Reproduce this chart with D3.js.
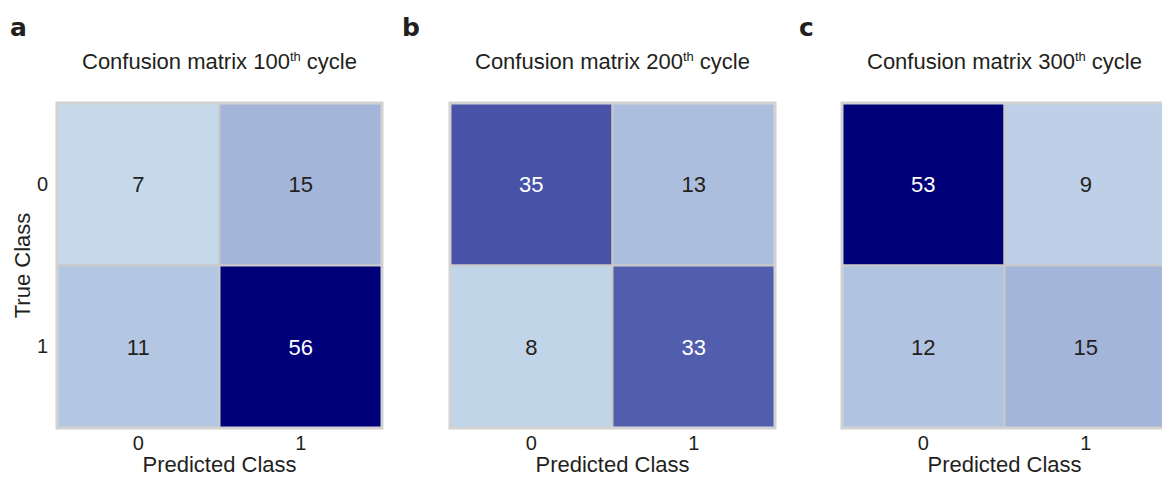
<!DOCTYPE html>
<html>
<head>
<meta charset="utf-8">
<script src="https://cdn.jsdelivr.net/npm/d3@7"></script>
<style>
  html, body { margin: 0; padding: 0; background: #fff; }
  svg { display: block; font-family: "Liberation Sans", Arial, Helvetica, sans-serif; }
</style>
</head>
<body>
<svg id="chart" width="1162" height="478"></svg>
<script>
// Class labels shared by every matrix
const classes = ["0", "1"];

// Panel letters and training-cycle numbers
const panelLetters = ["a", "b", "c"];
const cycles = ["100", "200", "300"];

// Confusion counts, row = true class, column = predicted class
const matrix100 = [[7, 15], [11, 56]];
const matrix200 = [[35, 13], [8, 33]];
const matrix300 = [[53, 9], [12, 15]];
const matrices = [matrix100, matrix200, matrix300];

// Colour ramp stops (count -> fill)
const colorStops = [7, 15, 35, 53];
const colorRange = ["#c5d9eb", "#a3b5d9", "#4853a8", "#000078"];

const svg = d3.select("#chart");
const ink = "#231f20";

const color = d3.scaleLinear()
  .domain(colorStops)
  .range(colorRange)
  .interpolate(d3.interpolateRgb)
  .clamp(true);

const panelLeft = [57, 450, 842];
const gridTop = 103;
const size = 325;

matrices.forEach((m, p) => {
  const x0 = panelLeft[p];
  const g = svg.append("g");

  const x = d3.scaleBand().domain(classes).range([x0, x0 + size]);
  const y = d3.scaleBand().domain(classes).range([gridTop, gridTop + size]);

  const cells = [];
  m.forEach((row, i) => row.forEach((v, j) => cells.push({ t: classes[i], p: classes[j], v })));

  // heatmap cells
  g.selectAll("rect.cell").data(cells).join("rect")
    .attr("class", "cell")
    .attr("x", d => x(d.p))
    .attr("y", d => y(d.t))
    .attr("width", x.bandwidth())
    .attr("height", y.bandwidth())
    .attr("fill", d => color(d.v))
    .attr("stroke", "#c9c9c9")
    .attr("stroke-width", 2);

  // outer frame
  g.append("rect")
    .attr("x", x0).attr("y", gridTop)
    .attr("width", size).attr("height", size)
    .attr("fill", "none")
    .attr("stroke", "#d2d2d2")
    .attr("stroke-width", 3);

  // count annotations
  g.selectAll("text.val").data(cells).join("text")
    .attr("class", "val")
    .attr("x", d => x(d.p) + x.bandwidth() / 2)
    .attr("y", d => y(d.t) + y.bandwidth() / 2)
    .attr("dy", "0.36em")
    .attr("text-anchor", "middle")
    .attr("font-size", 22)
    .attr("fill", d => d.v > 30 ? "#ffffff" : ink)
    .text(d => d.v);

  // x axis
  const xa = g.append("g")
    .attr("transform", `translate(0,${gridTop + size + 6})`)
    .call(d3.axisBottom(x).tickSize(0).tickPadding(2));
  xa.select(".domain").remove();
  xa.selectAll("text").attr("font-size", 20).attr("fill", ink)
    .attr("font-family", "Liberation Sans, Arial, sans-serif");

  g.append("text")
    .attr("x", x0 + size / 2)
    .attr("y", 472)
    .attr("text-anchor", "middle")
    .attr("font-size", 22)
    .attr("fill", ink)
    .text("Predicted Class");

  // y axis only on the first panel
  if (p === 0) {
    const ya = g.append("g")
      .attr("transform", `translate(${x0 - 7},0)`)
      .call(d3.axisLeft(y).tickSize(0).tickPadding(2));
    ya.select(".domain").remove();
    ya.selectAll("text").attr("font-size", 20).attr("fill", ink)
      .attr("font-family", "Liberation Sans, Arial, sans-serif");

    g.append("text")
      .attr("transform", `translate(30,${gridTop + size / 2}) rotate(-90)`)
      .attr("text-anchor", "middle")
      .attr("font-size", 22)
      .attr("fill", ink)
      .text("True Class");
  }

  // title with superscript ordinal
  const title = g.append("text")
    .attr("x", x0 + size / 2)
    .attr("y", 69)
    .attr("text-anchor", "middle")
    .attr("font-size", 22)
    .attr("fill", ink);
  title.append("tspan").text(`Confusion matrix ${cycles[p]}`);
  title.append("tspan").attr("font-size", 13).attr("dy", -8).text("th");
  title.append("tspan").attr("dy", 8).text(" cycle");

  // panel letter
  g.append("text")
    .attr("x", [10, 402, 799][p])
    .attr("y", 36)
    .attr("font-family", "DejaVu Sans, sans-serif")
    .attr("font-size", 25)
    .attr("font-weight", 900)
    .attr("fill", ink)
    .text(panelLetters[p]);
});
</script>
</body>
</html>
